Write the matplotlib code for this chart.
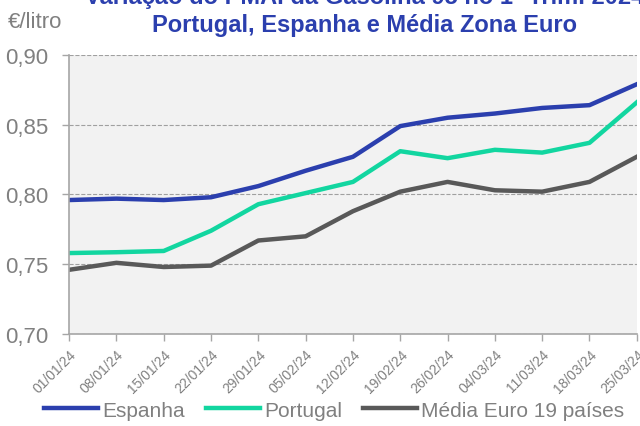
import numpy as np
import matplotlib
matplotlib.use("Agg")
from matplotlib import pyplot as plt

datas = ["01/01/24", "08/01/24", "15/01/24", "22/01/24", "29/01/24", "05/02/24",
         "12/02/24", "19/02/24", "26/02/24", "04/03/24", "11/03/24", "18/03/24",
         "25/03/24"]
espanha = [0.796, 0.797, 0.796, 0.798, 0.806, 0.817, 0.827, 0.849, 0.855,
           0.858, 0.862, 0.864, 0.879]
portugal = [0.758, 0.7586, 0.7595, 0.774, 0.793, 0.801, 0.809, 0.831, 0.826,
            0.832, 0.830, 0.837, 0.866]
media_euro = [0.746, 0.751, 0.748, 0.749, 0.767, 0.770, 0.788, 0.802, 0.809,
              0.803, 0.802, 0.809, 0.827]

plt.rcParams['font.family'] = ['Liberation Sans', 'DejaVu Sans']
cinza = '#808080'

fig = plt.figure(figsize=(6.4, 4.27), dpi=100)
ax = fig.add_axes([0.108, 0.2155, 0.887, 0.6535])
ax.set_facecolor('#f2f2f2')

x = np.arange(len(datas))
ax.plot(x, espanha, color='#2b3fae', lw=3.2, label='Espanha')
ax.plot(x, portugal, color='#12d6a0', lw=3.2, label='Portugal')
ax.plot(x, media_euro, color='#595959', lw=3.2, label='Média Euro 19 países')

ax.set_xlim(0, len(datas) - 1)
ax.set_ylim(0.70, 0.90)
ax.set_yticks([0.70, 0.75, 0.80, 0.85, 0.90])
ax.set_yticklabels(['0,70', '0,75', '0,80', '0,85', '0,90'], fontsize=16, color=cinza)
ax.set_xticks(x)
ax.set_xticklabels(datas, rotation=45, ha='right', rotation_mode='anchor',
                   fontsize=10, color=cinza)
ax.grid(axis='y', ls='--', color='#a0a0a0', lw=0.8)
for s in ['top', 'right']:
    ax.spines[s].set_visible(False)
for s in ['left', 'bottom']:
    ax.spines[s].set_color('#a6a6a6')
    ax.spines[s].set_linewidth(1.2)
ax.tick_params(axis='both', color='#a6a6a6', length=5, width=1)
ax.tick_params(axis='y', pad=10)
ax.tick_params(axis='x', pad=4)

fig.text(0.0125, 0.948, '€/litro', fontsize=16, color=cinza, va='center')
fig.text(0.569, 0.99, 'Variação do PMAI da Gasolina 95 no 1º Trim. 2024',
         fontsize=17, fontweight='bold', color='#2b3fae', ha='center', va='baseline')
fig.text(0.569, 0.925, 'Portugal, Espanha e Média Zona Euro',
         fontsize=17, fontweight='bold', color='#2b3fae', ha='center', va='baseline')

leg = fig.legend(loc='center', bbox_to_anchor=(0.522, 0.037), ncol=3,
                 frameon=False, fontsize=15, handlelength=2.6, handletextpad=0.2,
                 columnspacing=1.0)
for t in leg.get_texts():
    t.set_color(cinza)

fig.savefig('out.png', dpi=100)
